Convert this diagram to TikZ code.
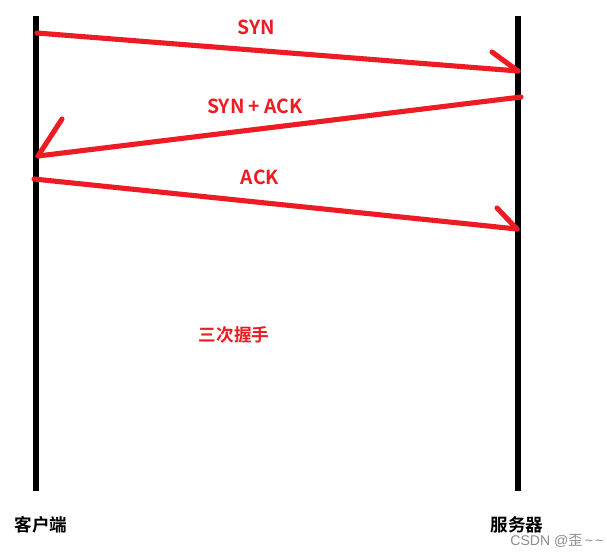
\documentclass[tikz,border=0pt]{standalone}
\usepackage{fontspec}
\setmainfont{Noto Sans CJK SC}
\newfontfamily\cjkbold{Noto Sans CJK SC Bold}
\newfontfamily\cjkreg{Noto Sans CJK SC}
\newfontfamily\wmfont{Liberation Sans}
\usetikzlibrary{calc}
\definecolor{paintred}{RGB}{237,28,36}
\tikzstyle{life} = [draw=black,line width=2.9pt]
\tikzstyle{msg} = [draw=paintred,line width=2.9pt,line cap=round]
\tikzstyle{lbl} = [text=paintred,font=\cjkbold\fontsize{11pt}{13pt}\selectfont]
\tikzstyle{hz} = [text=paintred,font=\cjkbold\fontsize{10pt}{12pt}\selectfont]
\tikzstyle{who} = [text=black,font=\cjkbold\fontsize{10pt}{12pt}\selectfont]

\begin{document}
\begin{tikzpicture}[x=0.02cm,y=-0.02cm]
\useasboundingbox[fill=white] (0,0) rectangle (607,554);

% two life lines
\coordinate (c0) at (36,16);
\coordinate (c1) at (36,491);
\coordinate (s0) at (518,16);
\coordinate (s1) at (518,491);
\draw[life] (c0) -- (c1);
\draw[life] (s0) -- (s1);

% SYN
\coordinate (a1) at (37,33);
\coordinate (a2) at (518,71);
\draw[msg] (a1) -- (a2);
\draw[msg] (a2) -- ++(-26,-19);
\draw(256,27) node[lbl] (syn) {SYN};

% SYN + ACK
\coordinate (b1) at (521,97);
\coordinate (b2) at (38,156);
\draw[msg] (b1) -- (b2);
\draw[msg] (b2) -- ++(24,-37);
\draw(255,106) node[lbl] (synack) {SYN + ACK};

% ACK
\coordinate (d1) at (34,179);
\coordinate (d2) at (517,229);
\draw[msg] (d1) -- (d2);
\draw[msg] (d2) -- ++(-20,-21);
\draw(260,177) node[lbl] (ack) {ACK};

\draw(234,335) node[hz] (title) {三次握手};
\draw(41,525) node[who] (client) {客户端};
\draw(517,525) node[who] (server) {服务器};
\draw(557,541) node[text=black!45,font=\wmfont\fontsize{8pt}{9pt}\selectfont] (wm) {CSDN @{\cjkreg 歪}\,\textasciitilde\,\textasciitilde};

\end{tikzpicture}
\end{document}
